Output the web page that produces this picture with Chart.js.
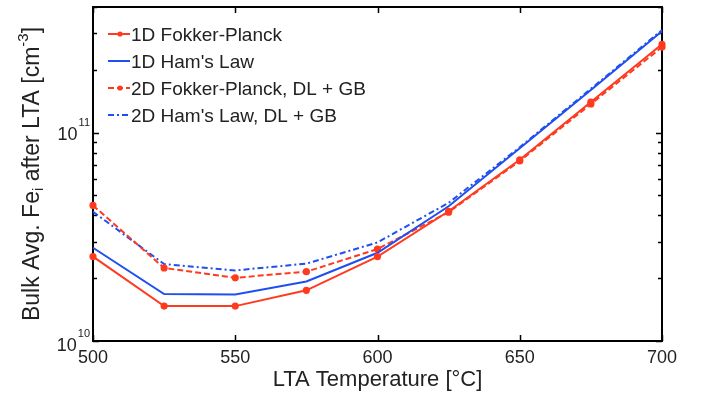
<!DOCTYPE html>
<html>
<head>
<meta charset="utf-8">
<script src="https://cdn.jsdelivr.net/npm/chart.js@4/dist/chart.umd.min.js"></script>
<style>
  html, body { margin: 0; padding: 0; background: #fff; }
  #wrap { width: 704px; height: 399px; }
</style>
</head>
<body>
<div id="wrap"><canvas id="feChart" width="704" height="399"></canvas></div>
<script>
// LTA temperature sweep
const temps = [500, 525, 550, 575, 600, 625, 650, 675, 700];
const fp1d  = [2.54e10, 1.47e10, 1.47e10, 1.75e10, 2.54e10, 4.19e10, 7.4e10, 1.40e11, 2.65e11];
const ham1d = [2.80e10, 1.68e10, 1.67e10, 1.93e10, 2.65e10, 4.43e10, 8.4e10, 1.60e11, 3.06e11];
const fp2d  = [4.47e10, 2.24e10, 2.01e10, 2.15e10, 2.76e10, 4.15e10, 7.3e10, 1.37e11, 2.57e11];
const ham2d = [4.17e10, 2.34e10, 2.18e10, 2.35e10, 2.97e10, 4.60e10, 8.5e10, 1.62e11, 3.10e11];

const seriesLabels = ['1D Fokker-Planck', "1D Ham's Law", '2D Fokker-Planck, DL + GB', "2D Ham's Law, DL + GB"];
const xTicks = [500, 550, 600, 650, 700];
const yDecades = [1e10, 1e11];

const RED = '#ff3a1e';
const BLUE = '#1f4ff0';
const FONT = '"Liberation Sans", Arial, Helvetica, sans-serif';

function series(label, values, color, dash, dots) {
    return {
        label,
        data: temps.map((t, i) => ({ x: t, y: values[i] })),
        borderColor: color,
        backgroundColor: color,
        borderWidth: 2,
        borderDash: dash,
        pointRadius: dots ? 2.6 : 0,
        pointHoverRadius: 0,
        tension: 0,
        clip: 6
    };
}

// box + inward ticks, MATLAB style
const axesBox = {
    id: 'axesBox',
    beforeDatasetsDraw(chart) {
        const { ctx, chartArea: a } = chart;
        ctx.save();
        ctx.strokeStyle = '#000';
        ctx.lineWidth = 2;
        ctx.strokeRect(a.left, a.top, a.right - a.left, a.bottom - a.top);

        const xs = chart.scales.x, ys = chart.scales.y;
        ctx.lineWidth = 1.5;
        ctx.beginPath();
        xTicks.forEach(v => {
            const px = Math.round(xs.getPixelForValue(v)) + 0.5;
            ctx.moveTo(px, a.bottom); ctx.lineTo(px, a.bottom - 6);
            ctx.moveTo(px, a.top); ctx.lineTo(px, a.top + 6);
        });
        yDecades.forEach(d => {
            for (let m = 1; m <= 9; m++) {
                const v = m * d;
                if (v < ys.min || v > ys.max) continue;
                const py = Math.round(ys.getPixelForValue(v)) + 0.5;
                const len = m === 1 ? 6 : 4;
                ctx.moveTo(a.left, py); ctx.lineTo(a.left + len, py);
                ctx.moveTo(a.right, py); ctx.lineTo(a.right - len, py);
            }
        });
        ctx.stroke();
        ctx.restore();
    },
    afterDraw(chart) {
        const { ctx, chartArea: a } = chart;
        const ys = chart.scales.y;
        ctx.save();
        ctx.fillStyle = '#222';

        // y tick labels 10^10, 10^11
        yDecades.forEach(d => {
            const py = ys.getPixelForValue(d);
            const exp = String(Math.round(Math.log10(d)));
            const base = d === ys.min ? py + 10 : py + 7;
            ctx.font = '11px ' + FONT;
            ctx.textAlign = 'left';
            ctx.textBaseline = 'alphabetic';
            const ew = ctx.measureText(exp).width;
            const supX = a.left - 3 - ew;
            ctx.fillText(exp, supX, base - 14);
            ctx.font = '18px ' + FONT;
            ctx.textAlign = 'right';
            ctx.fillText('10', supX - 1, base);
        });

        // y axis title with sub/superscript
        const parts = [
            { t: 'Bulk Avg. Fe', s: 23, dy: 0 },
            { t: 'i', s: 15, dy: 6 },
            { t: ' after LTA [cm', s: 23, dy: 0 },
            { t: '-3', s: 15, dy: -9 },
            { t: ']', s: 23, dy: 0 }
        ];
        let total = 0;
        parts.forEach(p => { ctx.font = p.s + 'px ' + FONT; p.w = ctx.measureText(p.t).width; total += p.w; });
        ctx.translate(33, (a.top + a.bottom) / 2);
        ctx.rotate(-Math.PI / 2);
        ctx.textAlign = 'left';
        ctx.textBaseline = 'middle';
        let x = -total / 2;
        parts.forEach(p => {
            ctx.font = p.s + 'px ' + FONT;
            ctx.fillText(p.t, x, p.dy);
            x += p.w;
        });
        ctx.restore();
    }
};

// legend inside the axes, no box
const innerLegend = {
    id: 'innerLegend',
    afterDatasetsDraw(chart) {
        const { ctx } = chart;
        ctx.save();
        chart.data.datasets.forEach((ds, i) => {
            const y = 34 + i * 27;
            ctx.strokeStyle = ds.borderColor;
            ctx.lineWidth = 2;
            ctx.setLineDash(ds.borderDash || []);
            ctx.beginPath();
            ctx.moveTo(108, y); ctx.lineTo(130, y);
            ctx.stroke();
            ctx.setLineDash([]);
            if (ds.pointRadius > 0) {
                ctx.fillStyle = ds.borderColor;
                ctx.beginPath();
                ctx.arc(120, y, ds.pointRadius, 0, Math.PI * 2);
                ctx.fill();
            }
            ctx.fillStyle = '#222';
            ctx.font = '19px ' + FONT;
            ctx.textAlign = 'left';
            ctx.textBaseline = 'middle';
            ctx.fillText(ds.label, 131, y + 2);
        });
        ctx.restore();
    }
};

new Chart(document.getElementById('feChart'), {
    type: 'line',
    data: {
        datasets: [
            series(seriesLabels[0], fp1d, RED, [], true),
            series(seriesLabels[1], ham1d, BLUE, [], false),
            series(seriesLabels[2], fp2d, RED, [6, 3], true),
            series(seriesLabels[3], ham2d, BLUE, [6, 3, 2, 3], false)
        ]
    },
    options: {
        responsive: false,
        animation: false,
        events: [],
        layout: { padding: { top: 7, right: 42, left: 0, bottom: 0 } },
        plugins: { legend: { display: false }, tooltip: { enabled: false } },
        scales: {
            x: {
                type: 'linear',
                min: 500,
                max: 700,
                afterBuildTicks: s => { s.ticks = xTicks.map(v => ({ value: v })); },
                afterFit: s => { s.height = 58; },
                grid: { display: false, drawTicks: false },
                border: { display: false },
                ticks: { padding: 6, color: '#222', font: { size: 18, family: FONT }, maxRotation: 0 },
                title: {
                    display: true,
                    text: 'LTA Temperature [°C]',
                    color: '#222',
                    font: { size: 22, family: FONT },
                    padding: { top: 0, bottom: 6 }
                }
            },
            y: {
                type: 'logarithmic',
                min: 1e10,
                max: 4e11,
                afterFit: s => { s.width = 93; },
                grid: { display: false, drawTicks: false },
                border: { display: false },
                ticks: { display: false }
            }
        }
    },
    plugins: [axesBox, innerLegend]
});
</script>
</body>
</html>
